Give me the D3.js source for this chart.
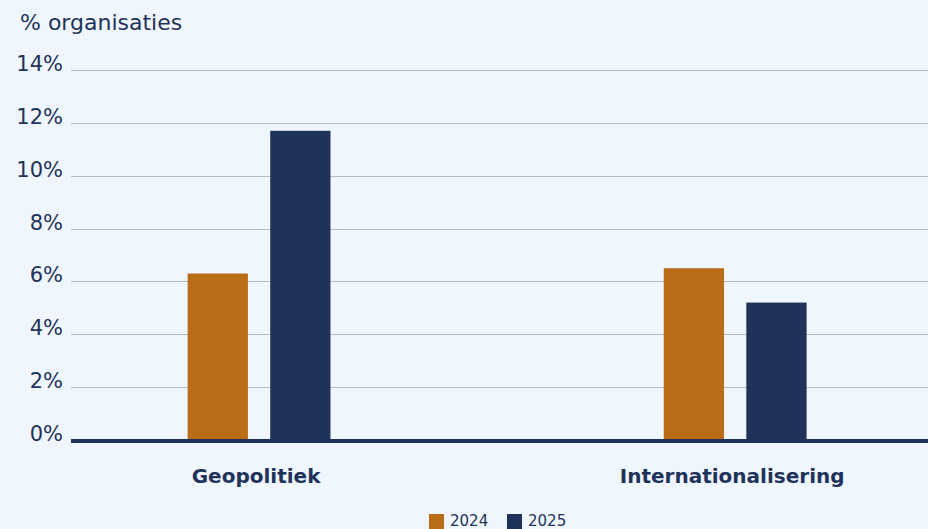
<!DOCTYPE html>
<html>
<head>
<meta charset="utf-8">
<script src="https://cdn.jsdelivr.net/npm/d3@7"></script>
<style>
  html, body { margin: 0; padding: 0; background: #eff6fd; }
  svg { display: block; font-family: "DejaVu Sans", sans-serif; }
</style>
</head>
<body>
<svg id="bar-chart"></svg>
<script>
const categories = ["Geopolitiek", "Internationalisering"];
const years = ["2024", "2025"];
const values2024 = [6.3, 6.5];
const values2025 = [11.7, 5.2];
const yTicks = [0, 2, 4, 6, 8, 10, 12, 14];

const colors = { "2024": "#b96d16", "2025": "#1f335a" };
const textColor = "#1f335a";

const margin = { top: 70, right: 0, bottom: 89, left: 71 },
  width = 928 - margin.left - margin.right,
  height = 529 - margin.top - margin.bottom;

const root = d3
  .select("#bar-chart")
  .attr("width", width + margin.left + margin.right)
  .attr("height", height + margin.top + margin.bottom);

root
  .append("rect")
  .attr("width", 928)
  .attr("height", 529)
  .attr("fill", "#eff6fd");

const svg = root
  .append("g")
  .attr("transform", `translate(${margin.left},${margin.top})`);

const data = categories.map((c, i) => ({
  category: c,
  values: [
    { key: "2024", value: values2024[i] },
    { key: "2025", value: values2025[i] },
  ],
}));

const x0 = d3
  .scaleBand()
  .domain(categories)
  .range([0, width])
  .paddingInner(0.7)
  .paddingOuter(0.25)
  .align(0.49);

const x1 = d3
  .scaleBand()
  .domain(years)
  .range([0, x0.bandwidth()])
  .padding(0.27)
  .paddingOuter(0);

const y = d3.scaleLinear().domain([0, 14]).range([height, 0]);

// gridlines
svg
  .append("g")
  .selectAll("line")
  .data(yTicks.filter((d) => d > 0))
  .enter()
  .append("line")
  .attr("x1", 0)
  .attr("x2", width)
  .attr("y1", (d) => Math.round(y(d)) + 0.5)
  .attr("y2", (d) => Math.round(y(d)) + 0.5)
  .attr("stroke", "#b5bcc8")
  .attr("stroke-width", 1);

// y tick labels
svg
  .append("g")
  .selectAll("text")
  .data(yTicks)
  .enter()
  .append("text")
  .attr("x", -8)
  .attr("y", (d) => y(d) + 1)
  .attr("text-anchor", "end")
  .attr("fill", textColor)
  .style("font-size", "21px")
  .text((d) => d + "%");

// y title
root
  .append("text")
  .attr("x", 20)
  .attr("y", 30)
  .attr("fill", textColor)
  .style("font-size", "22px")
  .text("% organisaties");

// bars
const groups = svg
  .selectAll(".bar-group")
  .data(data)
  .enter()
  .append("g")
  .attr("class", "bar-group")
  .attr("transform", (d) => `translate(${x0(d.category)},0)`);

groups
  .selectAll("rect")
  .data((d) => d.values)
  .enter()
  .append("rect")
  .attr("x", (d) => x1(d.key))
  .attr("y", (d) => y(d.value))
  .attr("width", x1.bandwidth())
  .attr("height", (d) => height - y(d.value))
  .attr("fill", (d) => colors[d.key]);

// baseline
svg
  .append("line")
  .attr("x1", 0)
  .attr("x2", width)
  .attr("y1", y(0) + 1)
  .attr("y2", y(0) + 1)
  .attr("stroke", "#1f335a")
  .attr("stroke-width", 4);

// category labels
svg
  .append("g")
  .selectAll("text")
  .data(categories)
  .enter()
  .append("text")
  .attr("x", (d) => x0(d) + x0.bandwidth() / 2 - 3)
  .attr("y", height + 43)
  .attr("text-anchor", "middle")
  .attr("fill", textColor)
  .style("font-size", "20px")
  .style("font-weight", "bold")
  .text((d) => d);

// legend
const legend = root
  .selectAll(".legend")
  .data(years)
  .enter()
  .append("g")
  .attr("class", "legend")
  .attr("transform", (d, i) => `translate(${429 + i * 78},514)`);

legend
  .append("rect")
  .attr("width", 15)
  .attr("height", 15)
  .attr("fill", (d) => colors[d]);

legend
  .append("text")
  .attr("x", 21)
  .attr("y", 12)
  .attr("fill", textColor)
  .style("font-size", "15px")
  .text((d) => d);
</script>
</body>
</html>
